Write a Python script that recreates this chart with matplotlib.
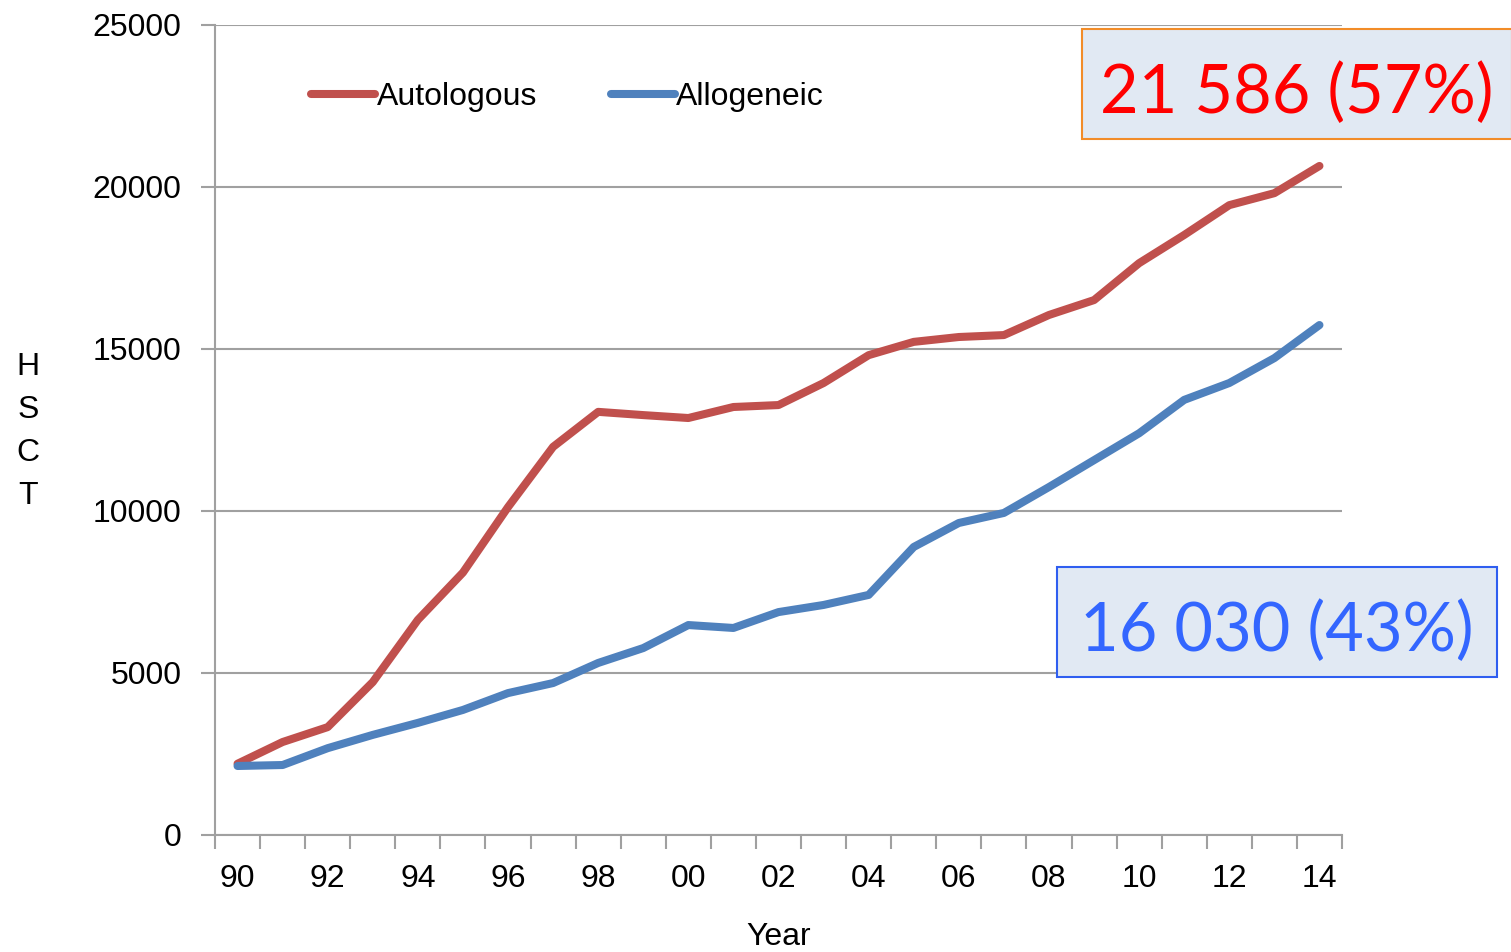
import numpy as np
import matplotlib
matplotlib.use("Agg")
import matplotlib.pyplot as plt
from matplotlib.patches import Rectangle

# ========== data ==========
years = list(range(1990, 2015))
year_labels = ["90", "92", "94", "96", "98", "00", "02", "04", "06", "08", "10", "12", "14"]
autologous = [2200, 2870, 3330, 4720, 6640, 8100, 10120, 11980, 13060, 12960,
              12870, 13210, 13270, 13950, 14810, 15220, 15370, 15430, 16050, 16510,
              17650, 18520, 19440, 19810, 20650]
allogeneic = [2130, 2160, 2680, 3090, 3460, 3860, 4380, 4690, 5310, 5770,
              6480, 6390, 6880, 7100, 7410, 8890, 9630, 9940, 10740, 11570,
              12400, 13430, 13950, 14720, 15740]
auto_note = "21 586 (57%)"
allo_note = "16 030 (43%)"

W, H = 1511, 952
plt.rcParams['font.family'] = ['Liberation Sans', 'DejaVu Sans']

fig = plt.figure(figsize=(W / 100, H / 100), dpi=100)
ax = fig.add_axes([215 / W, 1 - 835 / H, (1342 - 215) / W, (835 - 25) / H])

x = np.arange(len(years))
ax.plot(x, autologous, color="#C0504D", lw=5.8, solid_joinstyle="round",
        solid_capstyle="round", label="Autologous")
ax.plot(x, allogeneic, color="#4F81BD", lw=5.8, solid_joinstyle="round",
        solid_capstyle="round", label="Allogeneic")

gray = "#A0A0A0"
ax.set_xlim(-0.5, len(years) - 0.5)
ax.set_ylim(0, 25000)
ax.set_yticks(np.arange(0, 25001, 5000))
ax.yaxis.grid(True, color=gray, lw=1.5)
ax.set_axisbelow(True)
for s in ["top", "right"]:
    ax.spines[s].set_visible(False)
for s in ["left", "bottom"]:
    ax.spines[s].set_color(gray)
    ax.spines[s].set_linewidth(1.5)

# labels at category centres, tick marks on category boundaries
ax.set_xticks(x[::2])
ax.set_xticklabels(year_labels)
ax.set_xticks(np.arange(-0.5, len(years)), minor=True)
ax.tick_params(axis="x", which="major", length=0, pad=21, labelsize=23)
ax.tick_params(axis="x", which="minor", length=10, width=1.5, color=gray)
ax.tick_params(axis="y", length=10, width=1.5, color=gray, pad=14, labelsize=23)

ax.set_xlabel("Year", fontsize=23, labelpad=20)

for i, ch in enumerate("HSCT"):
    fig.text(28 / W, 1 - (367 + i * 43) / H, ch, fontsize=23, ha="center", va="center")

ax.legend(loc="upper left", bbox_to_anchor=(0.06, 0.965), ncol=2, frameon=False,
          fontsize=23, handlelength=2.0, handletextpad=0.05, columnspacing=2.3)

# ========== annotation boxes ==========
def note(x0, y0, x1, y1, text, tcolor, ecolor):
    fig.add_artist(Rectangle((x0 / W, 1 - y1 / H), (x1 - x0) / W, (y1 - y0) / H,
                             transform=fig.transFigure, facecolor="#E1E9F3",
                             edgecolor=ecolor, lw=1.5, clip_on=False))
    fig.text((x0 + x1) / 2 / W, 1 - ((y0 + y1) / 2 + 10) / H, text, color=tcolor,
             fontsize=48, family=["Lato", "DejaVu Sans"], ha="center", va="center")

note(1082, 29, 1512, 139, auto_note, "#FF0000", "#F28C28")
note(1057, 567, 1497, 677, allo_note, "#3366FF", "#2F5EF0")

fig.savefig("out.png", dpi=100)
